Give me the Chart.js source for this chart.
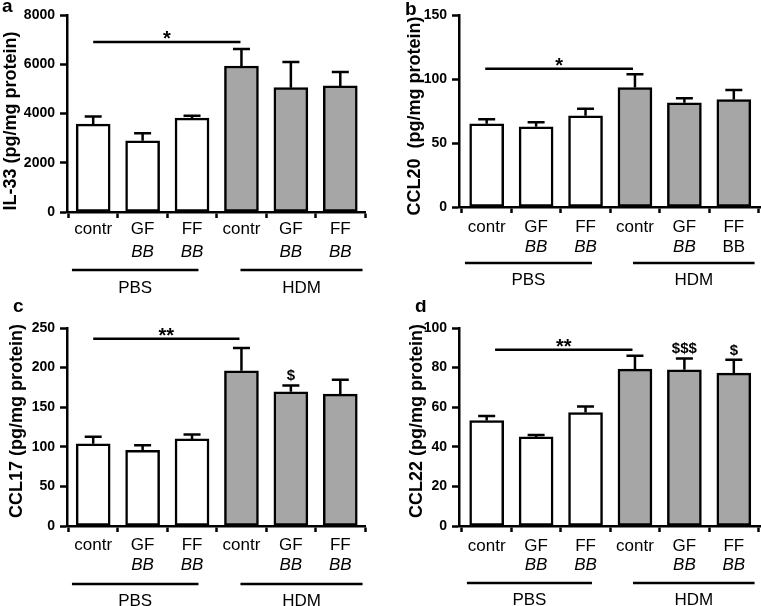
<!DOCTYPE html>
<html>
<head>
<meta charset="utf-8">
<script src="https://cdn.jsdelivr.net/npm/chart.js@4.4.0/dist/chart.umd.min.js"></script>
<style>
  html, body { margin: 0; padding: 0; background: #fff; }
  body { width: 761px; height: 606px; position: relative; overflow: hidden; }
  canvas { position: absolute; }
</style>
</head>
<body>
<canvas id="chartA" width="380" height="300" style="left:0;top:0"></canvas>
<canvas id="chartB" width="381" height="300" style="left:380px;top:0"></canvas>
<canvas id="chartC" width="380" height="306" style="left:0;top:300px"></canvas>
<canvas id="chartD" width="381" height="306" style="left:380px;top:300px"></canvas>
<script>
// data
const categories = ['contr', 'GF', 'FF', 'contr', 'GF', 'FF'];
const subLabels = ['', 'BB', 'BB', '', 'BB', 'BB'];
const groups = ['PBS', 'HDM'];

const il33 = [3570, 2890, 3810, 5930, 5050, 5120];
const il33Err = [310, 310, 100, 690, 1040, 570];
const ccl20 = [65, 62.7, 71.2, 93.3, 81.4, 84];
const ccl20Err = [3.6, 3.6, 5.5, 10.4, 3.6, 7.5];
const ccl17 = [103.7, 95.7, 110, 196, 169.5, 166.5];
const ccl17Err = [8.9, 6.3, 5.5, 28.7, 8, 18.2];
const ccl22 = [53.3, 45, 57.3, 79.2, 78.9, 77.2];
const ccl22Err = [2.3, 1, 3.1, 6.8, 5.7, 6.8];

const FONT = '"Liberation Sans", Arial, Helvetica, sans-serif';
const barColors = ['#ffffff', '#ffffff', '#ffffff', '#a6a6a6', '#a6a6a6', '#a6a6a6'];

// draws error bars, second label line, group bars, titles and marks
const extras = {
    id: 'extras',
    afterDraw(chart) {
        const p = chart.options.plugins.extras;
        const ctx = chart.ctx;
        const xs = chart.scales.x, ys = chart.scales.y;
        const base = chart.chartArea.bottom;
        ctx.save();
        ctx.strokeStyle = '#000';
        ctx.fillStyle = '#000';
        ctx.lineWidth = 2.5;
        ctx.textAlign = 'center';

        p.values.forEach((v, i) => {
            const cx = xs.getPixelForValue(i);
            const y0 = ys.getPixelForValue(v);
            const y1 = ys.getPixelForValue(v + p.errors[i]);
            ctx.beginPath();
            ctx.moveTo(cx, y0);
            ctx.lineTo(cx, y1);
            ctx.moveTo(cx - 8.5, y1);
            ctx.lineTo(cx + 8.5, y1);
            ctx.stroke();
            if (p.marks && p.marks[i]) {
                ctx.font = 'bold 15px ' + FONT;
                ctx.textBaseline = 'alphabetic';
                ctx.fillText(p.marks[i], cx, y1 - 5);
            }
            if (subLabels[i]) {
                const upright = p.uprightSub && p.uprightSub[i];
                ctx.font = (upright ? '' : 'italic ') + '17px ' + FONT;
                ctx.textBaseline = 'middle';
                ctx.fillText(subLabels[i], cx, base + p.off[1]);
            }
        });

        // significance star over the line dataset
        const sy = ys.getPixelForValue(p.sig.y);
        const sx = (xs.getPixelForValue(p.sig.x0) + xs.getPixelForValue(p.sig.x1)) / 2;
        ctx.font = 'bold 20px ' + FONT;
        ctx.textBaseline = 'alphabetic';
        ctx.fillText(p.sig.text, sx, sy + 3);

        // group lines and names
        p.groupSpans.forEach((span, g) => {
            const gy = base + p.off[2];
            ctx.beginPath();
            ctx.moveTo(xs.getPixelForValue(span[0]), gy);
            ctx.lineTo(xs.getPixelForValue(span[1]), gy);
            ctx.stroke();
            ctx.font = '17px ' + FONT;
            ctx.textBaseline = 'middle';
            ctx.fillText(groups[g], xs.getPixelForValue((span[0] + span[1]) / 2), base + p.off[3]);
        });

        // y title
        ctx.save();
        ctx.translate(p.titleX, p.titleY);
        ctx.rotate(-Math.PI / 2);
        ctx.font = 'bold 18px ' + FONT;
        ctx.textBaseline = 'middle';
        ctx.fillText(p.title, 0, 0);
        ctx.restore();

        // panel letter
        ctx.font = 'bold 19px ' + FONT;
        ctx.textAlign = 'left';
        ctx.textBaseline = 'alphabetic';
        ctx.fillText(p.letter, p.letterX, p.letterY);
        ctx.restore();
    }
};

function makePanel(id, opt) {
    const ctx = document.getElementById(id).getContext('2d');
    return new Chart(ctx, {
        type: 'bar',
        data: {
            datasets: [{
                data: opt.values.map((v, i) => ({ x: i, y: v })),
                backgroundColor: barColors,
                borderColor: '#000',
                borderWidth: 2.5,
                borderSkipped: false,
                barThickness: 34,
                order: 2
            }, {
                type: 'line',
                data: [{ x: opt.sig.x0, y: opt.sig.y }, { x: opt.sig.x1, y: opt.sig.y }],
                borderColor: '#000',
                borderWidth: 2.5,
                pointRadius: 0,
                order: 1
            }]
        },
        options: {
            responsive: false,
            animation: false,
            events: [],
            layout: {
                padding: {
                    left: 0,
                    top: opt.top,
                    right: opt.w - opt.right,
                    bottom: opt.h - opt.bottom - 30
                }
            },
            scales: {
                x: {
                    type: 'linear',
                    min: opt.xMin,
                    max: opt.xMax,
                    offset: false,
                    afterBuildTicks: s => { s.ticks = categories.map((c, i) => ({ value: i })); },
                    afterFit: s => { s.height = 30; },
                    grid: { drawOnChartArea: false, tickLength: 6, tickWidth: 2.5, tickColor: '#000' },
                    border: { color: '#000', width: 2.5 },
                    ticks: {
                        color: '#000',
                        font: { family: FONT, size: 17 },
                        padding: opt.off[0] - 16.2,
                        maxRotation: 0,
                        autoSkip: false,
                        callback: v => categories[v]
                    }
                },
                y: {
                    min: 0,
                    max: opt.yMax,
                    afterFit: s => { s.width = opt.left; },
                    grid: { drawOnChartArea: false, tickLength: 7, tickWidth: 2.5, tickColor: '#000' },
                    border: { color: '#000', width: 2.5 },
                    ticks: {
                        stepSize: opt.step,
                        color: '#000',
                        padding: 5,
                        font: { family: FONT, size: 14, weight: 'bold' },
                        callback: v => String(v)
                    }
                }
            },
            plugins: {
                legend: { display: false },
                tooltip: { enabled: false },
                extras: opt
            }
        },
        plugins: [extras]
    });
}

makePanel('chartA', {
    values: il33, errors: il33Err, yMax: 8000, step: 2000,
    w: 380, h: 300, left: 67, right: 365, top: 15, bottom: 212,
    xMin: -0.53, xMax: 5.5,
    off: [17, 40, 58, 76],
    sig: { x0: 0, x1: 2.98, y: 6900, text: '*' },
    groupSpans: [[-0.43, 2.13], [2.98, 5.45]],
    title: 'IL-33 (pg/mg protein)', titleX: 11, titleY: 121,
    letter: 'a', letterX: 2, letterY: 12
});

makePanel('chartB', {
    values: ccl20, errors: ccl20Err, yMax: 150, step: 50,
    w: 381, h: 300, left: 79, right: 381, top: 15, bottom: 207,
    xMin: -0.56, xMax: 5.55,
    off: [20, 40, 56, 73],
    sig: { x0: -0.03, x1: 2.96, y: 108, text: '*' },
    groupSpans: [[-0.44, 2.13], [2.96, 5.42]],
    uprightSub: [false, false, false, false, false, true],
    title: 'CCL20  (pg/mg protein)', titleX: 35, titleY: 116,
    letter: 'b', letterX: 25, letterY: 15
});

makePanel('chartC', {
    values: ccl17, errors: ccl17Err, yMax: 250, step: 50,
    w: 380, h: 306, left: 67, right: 365, top: 28, bottom: 226,
    xMin: -0.53, xMax: 5.5,
    off: [19, 39, 58, 75],
    sig: { x0: 0, x1: 2.96, y: 236.5, text: '**' },
    marks: ['', '', '', '', '$', ''],
    groupSpans: [[-0.43, 2.13], [2.98, 5.45]],
    title: 'CCL17 (pg/mg protein)', titleX: 17, titleY: 121,
    letter: 'c', letterX: 13, letterY: 12
});

makePanel('chartD', {
    values: ccl22, errors: ccl22Err, yMax: 100, step: 20,
    w: 381, h: 306, left: 79, right: 381, top: 28, bottom: 226,
    xMin: -0.56, xMax: 5.55,
    off: [20, 39, 57, 74],
    sig: { x0: 0.17, x1: 2.95, y: 89, text: '**' },
    marks: ['', '', '', '', '$$$', '$'],
    groupSpans: [[-0.4, 2.13], [2.96, 5.42]],
    title: 'CCL22 (pg/mg protein)', titleX: 37, titleY: 121,
    letter: 'd', letterX: 35, letterY: 12
});
</script>
</body>
</html>
